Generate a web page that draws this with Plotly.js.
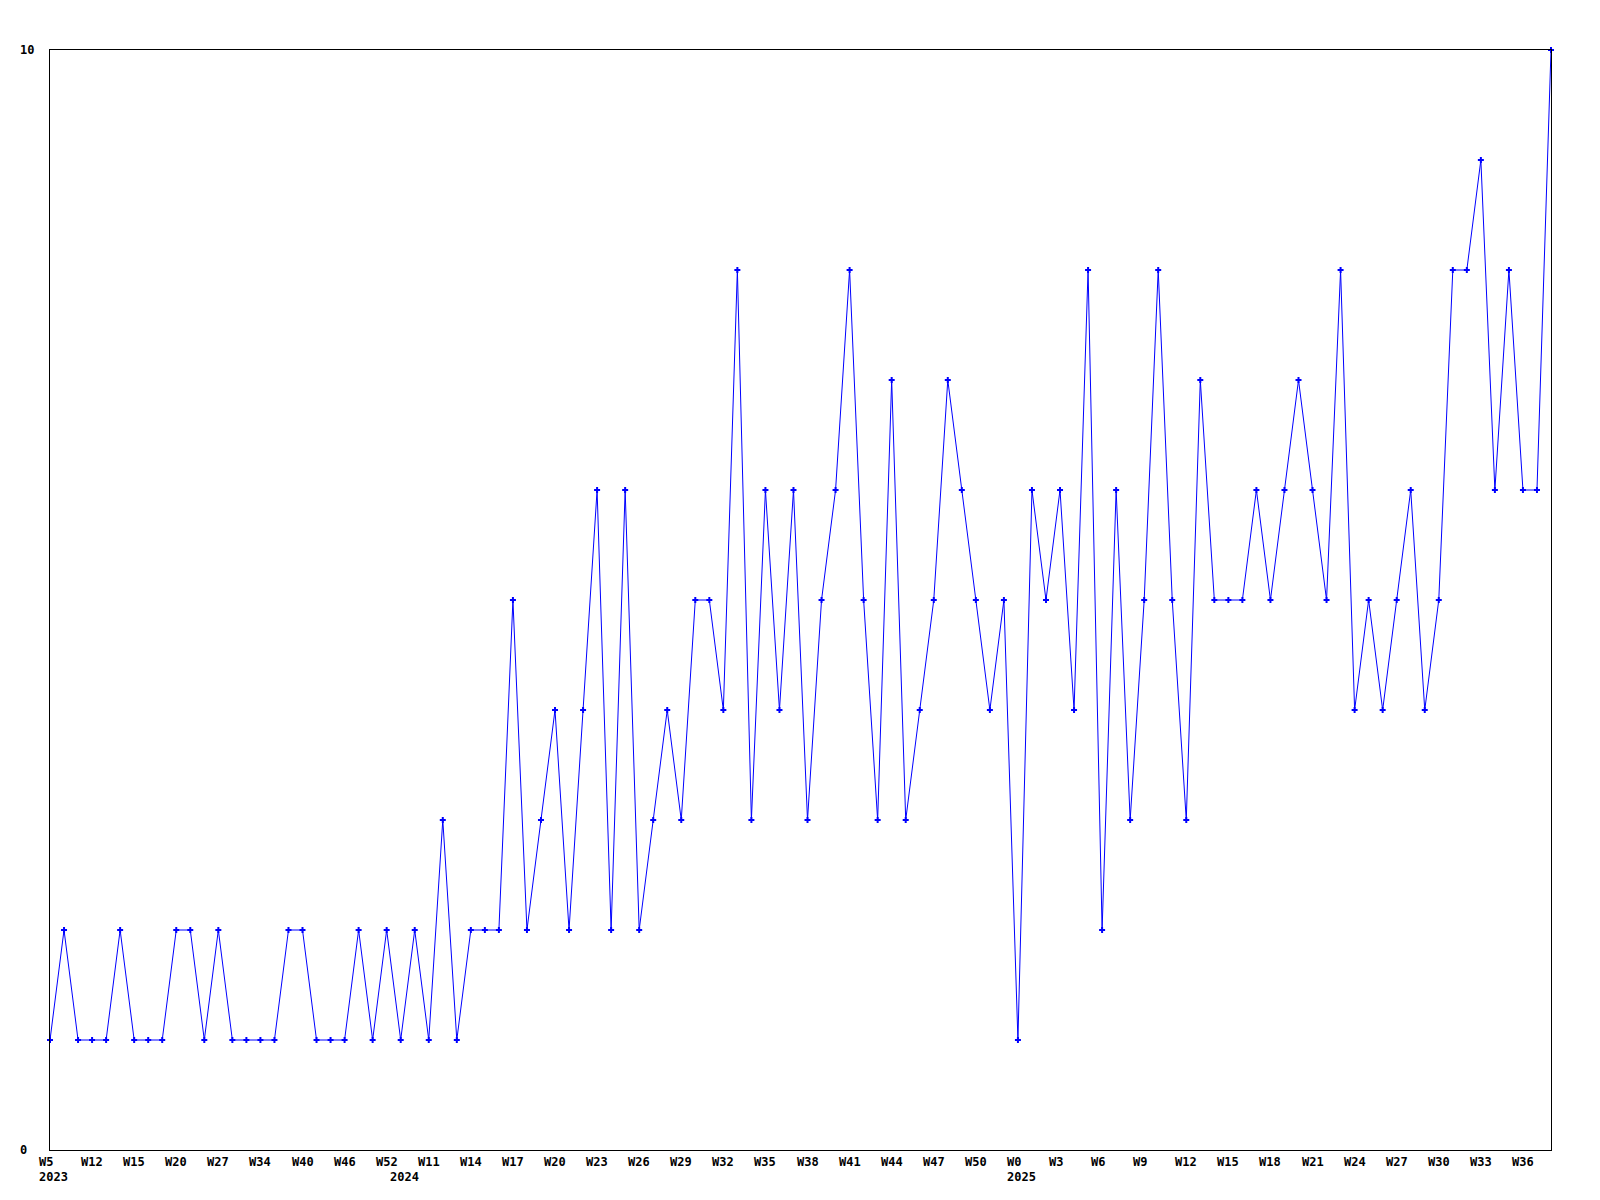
<!DOCTYPE html>
<html>
<head>
<meta charset="utf-8">
<script src="https://cdn.plot.ly/plotly-3.0.1.min.js"></script>
<style>
  html, body { margin: 0; padding: 0; background: #ffffff; }
  #chart { width: 1600px; height: 1200px; }
</style>
</head>
<body>
<div id="chart"></div>
<script>
// Weekly counts, one per plotted point (left to right)
const values = [
  1,2,1,1,1,2,1,1,1,2,2,1,2,1,1,1,1,2,2,1,1,1,2,1,2,1,2,1,
  3,1,2,2,2,5,2,3,4,2,4,6,2,6,2,3,4,3,5,5,4,8,3,6,4,6,3,5,6,
  8,5,3,7,3,4,5,7,6,5,4,5,1,6,5,6,4,8,2,6,3,5,8,5,3,7,
  5,5,5,6,5,6,7,6,5,8,4,5,4,5,6,4,5,8,8,9,6,8,6,6,10
];

// Week tick labels, shown at every third point
const tickStep = 3;
const tickLabels = [
  "W5","W12","W15","W20","W27","W34","W40","W46","W52",
  "W11","W14","W17","W20","W23","W26","W29","W32","W35","W38",
  "W41","W44","W47","W50","W0","W3","W6","W9","W12","W15",
  "W18","W21","W24","W27","W30","W33","W36"
];

// Year labels: point index where each year starts
const yearIndex = [0, 25, 69];
const yearLabels = ["2023", "2024", "2025"];

// Y axis labels
const yTickVals = [0, 10];
const yTickLabels = ["0", "10"];

const xIdx = values.map((v, i) => i);

const fontMono = { family: "DejaVu Sans Mono", size: 12, color: "#000000", weight: "bold" };

const annotations = [];
tickLabels.forEach((t, k) => {
  annotations.push({
    x: k * tickStep, xref: "x", y: -0.0109, yref: "paper",
    text: "<b>" + t + "</b>", showarrow: false,
    xanchor: "left", yanchor: "middle", xshift: -12,
    font: fontMono, borderpad: 0
  });
});
yearLabels.forEach((t, k) => {
  annotations.push({
    x: yearIndex[k], xref: "x", y: -0.0245, yref: "paper",
    text: "<b>" + t + "</b>", showarrow: false,
    xanchor: "left", yanchor: "middle", xshift: -12,
    font: fontMono, borderpad: 0
  });
});
yTickLabels.forEach((t, k) => {
  annotations.push({
    x: -31 / 1501, xref: "paper", y: yTickVals[k], yref: "y",
    text: "<b>" + t + "</b>", showarrow: false,
    xanchor: "left", yanchor: "middle",
    font: fontMono, borderpad: 0
  });
});

const trace = {
  x: xIdx,
  y: values,
  type: "scatter",
  mode: "lines+markers",
  line: { color: "#0000ff", width: 1 },
  marker: { color: "#0000ff", symbol: "cross", size: 5, line: { width: 0 } },
  cliponaxis: false,
  hoverinfo: "y"
};

const layout = {
  width: 1600,
  height: 1200,
  margin: { l: 50, r: 49, t: 50, b: 50, pad: 0 },
  paper_bgcolor: "#ffffff",
  plot_bgcolor: "#ffffff",
  showlegend: false,
  xaxis: {
    range: [0, values.length - 1],
    showgrid: false, zeroline: false,
    showline: true, mirror: true, linecolor: "#000000", linewidth: 1,
    ticks: "", showticklabels: false, fixedrange: true
  },
  yaxis: {
    range: [0, 10],
    showgrid: false, zeroline: false,
    showline: true, mirror: true, linecolor: "#000000", linewidth: 1,
    ticks: "", showticklabels: false, fixedrange: true
  },
  annotations: annotations
};

Plotly.newPlot("chart", [trace], layout, { displayModeBar: false, staticPlot: true });
</script>
</body>
</html>
